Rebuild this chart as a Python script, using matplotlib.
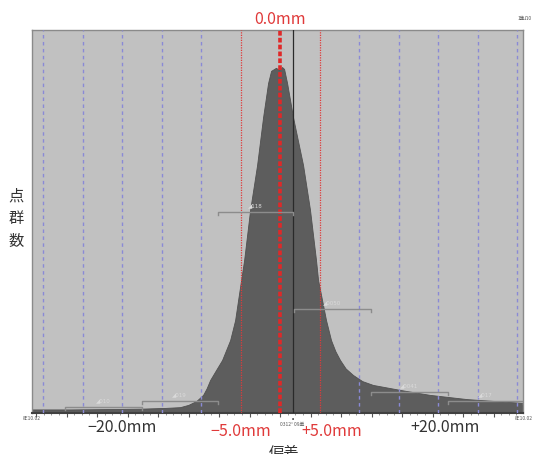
import matplotlib
matplotlib.use("Agg")
import matplotlib.pyplot as plt
from matplotlib.ticker import MultipleLocator
import numpy as np

plt.rcParams['font.family'] = ['Noto Sans CJK JP', 'DejaVu Sans']

# ---- data (deviation in mm, point count in arbitrary units) ----
dev_mm = [-31.4, -26.6, -21.5, -17.7, -14.5, -12.65, -11.6, -10.6, -9.74, -9.3, -8.85,
          -8.1, -7.34, -6.85, -6.32, -5.69, -5.31, -4.93, -4.55, -3.79, -2.91, -2.15, -1.52,
          -1.14, -0.51, -0.13, 0.25, 0.51, 0.89, 1.64, 2.91, 3.79, 4.55,
          4.81, 5.31, 5.82, 6.45, 7.0, 7.59, 8.3, 9.23, 10.4, 11.76, 15.18, 18.97, 23.65,
          27.2, 30.75]
counts = [8, 8, 9, 10, 12, 14, 20, 30, 46, 63, 85,
          111, 137, 162, 189, 241, 294, 346, 398, 529, 646, 771, 860,
          892, 900, 894, 902, 897, 860, 771, 646, 529, 398,
          346, 294, 241, 189, 160, 137, 115, 98, 82, 72, 59, 46, 35,
          30, 25]

# band brackets (start, end, level, label)
band_start = [-27.2, -17.5, -7.9, 1.75, 11.5, 21.2]
band_end = [-17.5, -7.9, 1.6, 11.5, 21.2, 30.75]
band_level = [15, 30, 524, 270, 54, 30]
band_label = ["◢010", "◢019", "◢118", "◢0050", "◢0041", "◢017"]

guide_blue = [-30, -25, -20, -15, -10, 10, 15, 20, 25, 30]
guide_red = [-5, 5]
center_mm = 0.0
mean_mm = 1.64

label_pos = [-20, -5, 5, 20]
label_text = ["−20.0mm", "−5.0mm", "+5.0mm", "+20.0mm"]
label_offset = [0.0, 0.0, 1.6, 0.9]
label_red = [False, True, True, False]

W, H = 534, 454
fig = plt.figure(figsize=(W / 100, H / 100), dpi=100)
fig.patch.set_facecolor('white')
ax = fig.add_axes([32 / W, (H - 412.5) / H, (523 - 32) / W, (412.5 - 29.5) / H])
ax.set_facecolor('#c1c1c1')
ax.set_xlim(-31.4, 30.75)
ax.set_ylim(0, 1000)

ax.fill_between(dev_mm, counts, 0, color='#5d5d5d', lw=0.6, edgecolor='#505050', zorder=2)

for g in guide_blue:
    ax.axvline(g, color='#8a8ad6', lw=1.0, ls=(0, (2.5, 2.5)), zorder=3)
for g in guide_red:
    ax.axvline(g, color='#e03a3a', lw=0.9, ls=(0, (1, 1)), zorder=3)
ax.axvline(mean_mm, color='#2a2a2a', lw=0.9, zorder=3)
ax.axvline(center_mm, color='#e02828', lw=2.6, ls=(0, (1.3, 0.6)), zorder=4)

for s, e, lv, lb in zip(band_start, band_end, band_level, band_label):
    ax.plot([s, s, e, e], [lv - 8, lv, lv, lv - 8], color='#8c8c8c', lw=1.0, zorder=5)
    ax.text((s + e) / 2, lv + 10, lb, fontsize=4, color='#dadada', ha='center', va='bottom', zorder=5,
            family=['DejaVu Sans'])

for sp in ax.spines.values():
    sp.set_color('#8a8a8a')
    sp.set_linewidth(1.0)
ax.spines['bottom'].set_color('#404040')
ax.spines['bottom'].set_linewidth(1.5)

ax.xaxis.set_major_locator(MultipleLocator(3.86))
ax.xaxis.set_minor_locator(MultipleLocator(3.86 / 4))
ax.tick_params(axis='x', which='major', length=3, width=0.8, color='#555555', labelbottom=False, direction='out')
ax.tick_params(axis='x', which='minor', length=1.5, width=0.6, color='#888888', direction='out')
ax.set_yticks([])

def to_fig_x(mm):
    return ax.transData.transform((mm, 0))[0] / W

for p, t, off, red in zip(label_pos, label_text, label_offset, label_red):
    y = 1 - (431 if red else 428) / H
    fig.text(to_fig_x(p + off), y, t, fontsize=11.5, color='#e03a3a' if red else '#333333',
             ha='center', va='center')

fig.text(to_fig_x(center_mm), 1 - 19.5 / H, "0.0mm", fontsize=11.5, color='#e03a3a', ha='center', va='center')
fig.text(284 / W, 1 - 445 / H, "偏差", fontsize=11, color='#333333', ha='center', va='top')
fig.text(16 / W, 1 - 219 / H, "点\n群\n数", fontsize=11, color='#333333', ha='center', va='center',
         linespacing=1.45)

# tiny annotations
fig.text(32 / W, 1 - 419 / H, "8E10.02", fontsize=3.5, color='#555555', ha='center', va='center')
fig.text(524 / W, 1 - 419 / H, "8E10.02", fontsize=3.5, color='#555555', ha='center', va='center')
fig.text(292 / W, 1 - 425 / H, "0312° 09单", fontsize=3.5, color='#555555', ha='center', va='center')
fig.text(293 / W, 1 - 418.5 / H, "•", fontsize=4.5, color='#111111', ha='center', va='center')
fig.text(525 / W, 1 - 18 / H, "1隼Ω0", fontsize=3.5, color='#555555', ha='center', va='center')

fig.savefig('out.png', dpi=100, facecolor='white')
